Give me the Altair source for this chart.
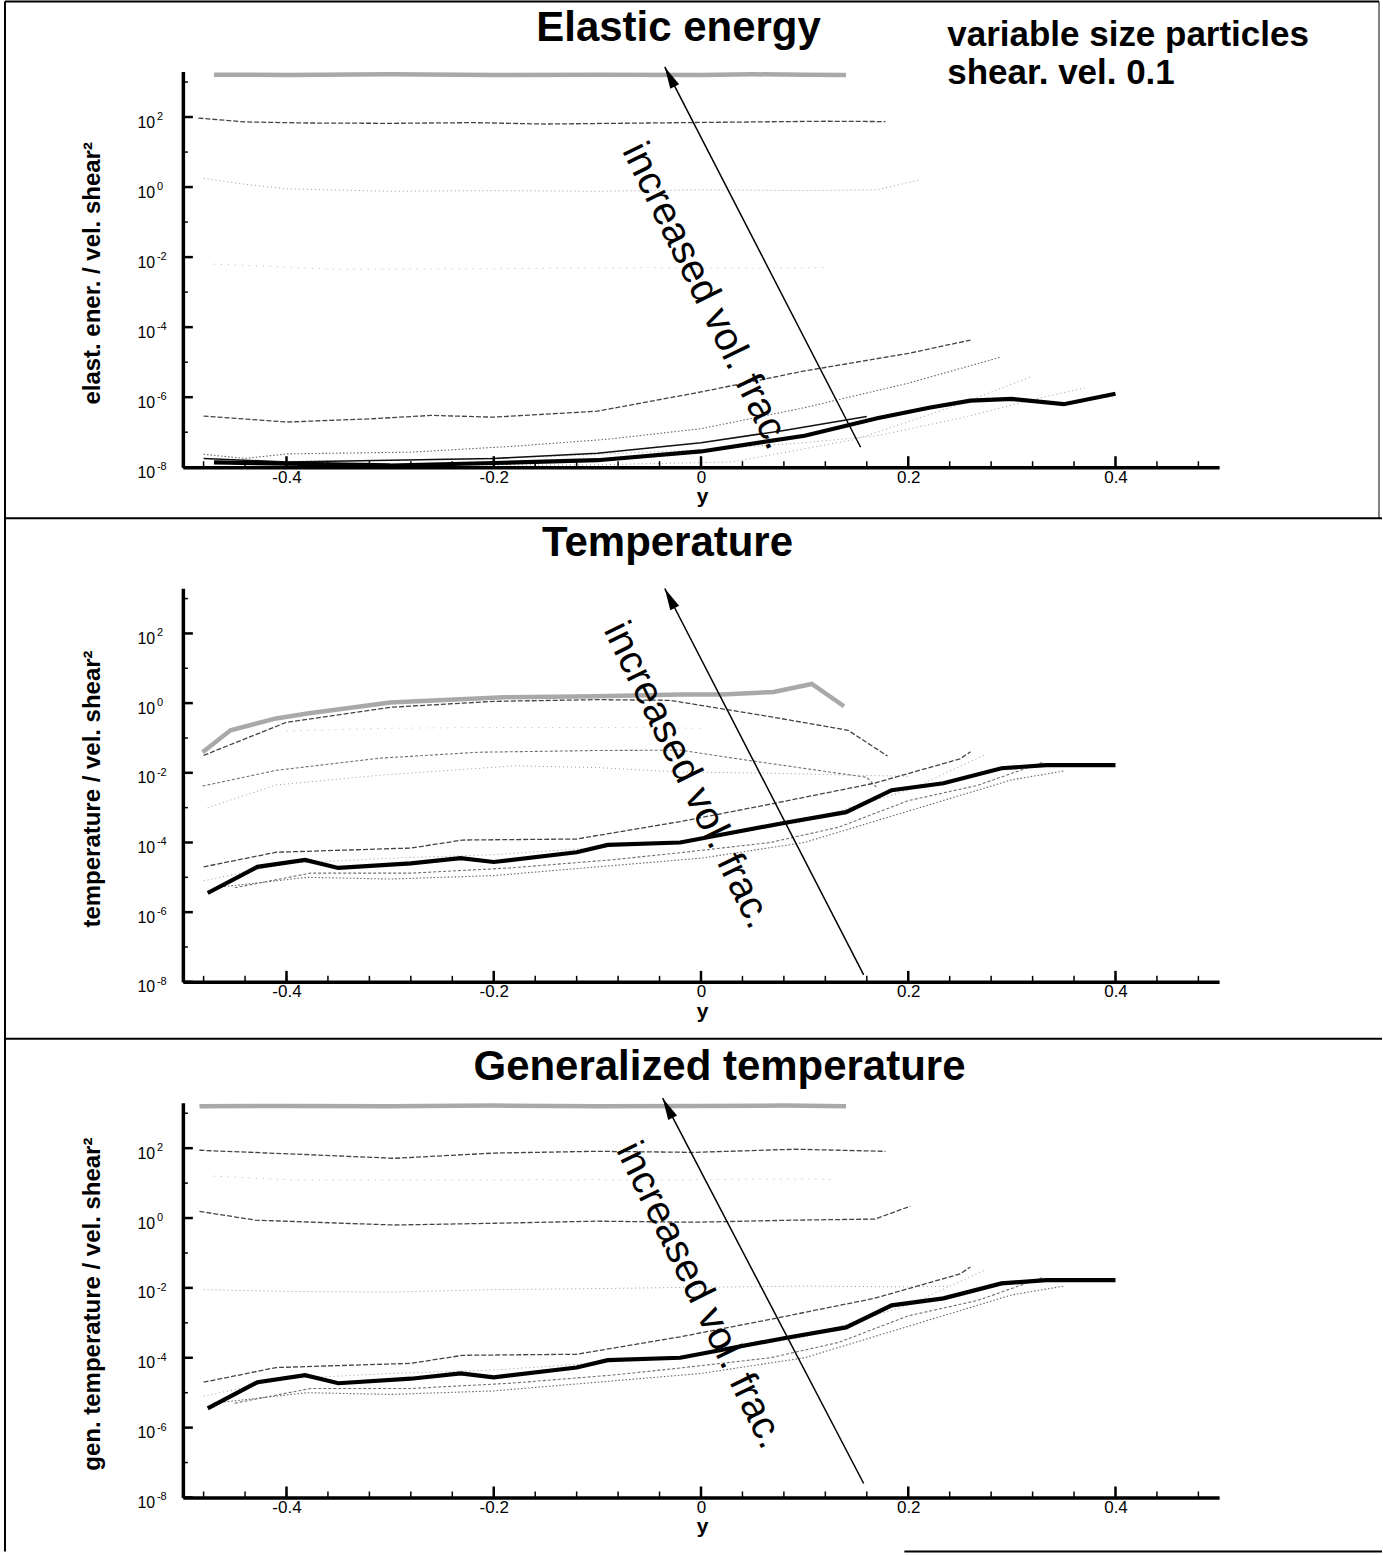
import altair as alt
import pandas as pd

FONT = "Liberation Sans"

# ---------------------------------------------------------------- axes
X_DOMAIN = [-0.5, 0.5]
Y_DOMAIN = [1e-8, 1995.0]          # 1e-8 .. 10^3.3
X_MAJOR = [-0.4, -0.2, 0.0, 0.2, 0.4]
X_MINOR = [-0.48, -0.44, -0.40, -0.36, -0.32, -0.28, -0.24, -0.20, -0.16, -0.12,
           -0.08, -0.04, 0.0, 0.04, 0.08, 0.12, 0.16, 0.20, 0.24, 0.28, 0.32,
           0.36, 0.40, 0.44, 0.48]
Y_MAJOR_EXP = [-8, -6, -4, -2, 0, 2]
Y_MINOR_EXP = [-7, -5, -3, -1, 1, 3]

# ---------------------------------------------------------------- data (log10 of value)
# Elastic energy
el_top_x = [-0.47, -0.4, -0.3, -0.2, -0.1, 0.0, 0.05, 0.1, 0.14]
el_top = [3.21, 3.2, 3.22, 3.2, 3.21, 3.2, 3.22, 3.21, 3.2]
el_hi_x = [-0.485, -0.44, -0.38, -0.3, -0.22, -0.15, -0.05, 0.05, 0.12, 0.178]
el_hi = [1.97, 1.86, 1.83, 1.82, 1.84, 1.8, 1.83, 1.86, 1.88, 1.87]
el_one_x = [-0.48, -0.44, -0.4, -0.3, -0.2, -0.1, 0.0, 0.1, 0.17, 0.21]
el_one = [0.25, 0.08, -0.05, -0.12, -0.1, -0.12, -0.08, -0.1, -0.08, 0.2]
el_cent_x = [-0.47, -0.35, -0.2, -0.05, 0.05, 0.12]
el_cent = [-2.2, -2.35, -2.33, -2.3, -2.32, -2.3]
el_a_x = [-0.48, -0.4, -0.32, -0.26, -0.2, -0.1, 0.0, 0.1, 0.2, 0.26]
el_a = [-6.54, -6.71, -6.62, -6.52, -6.57, -6.4, -5.85, -5.25, -4.75, -4.37]
el_b_x = [-0.48, -0.44, -0.4, -0.28, -0.18, -0.09, 0.0, 0.1, 0.2, 0.29]
el_b = [-7.63, -7.75, -7.62, -7.57, -7.4, -7.2, -6.9, -6.3, -5.6, -4.85]
el_c_x = [-0.45, -0.3, -0.15, 0.0, 0.1, 0.17, 0.25, 0.33, 0.37]
el_c = [-7.85, -7.8, -7.7, -7.5, -7.3, -7.1, -6.6, -6.0, -5.74]
el_d_x = [-0.3, -0.1, 0.03, 0.15, 0.25, 0.32]
el_d = [-7.95, -7.93, -7.85, -7.2, -6.2, -5.4]
el_thin_x = [-0.48, -0.4, -0.3, -0.2, -0.1, 0.0, 0.08, 0.16]
el_thin = [-7.75, -7.85, -7.8, -7.75, -7.6, -7.3, -6.95, -6.55]
el_bold_x = [-0.47, -0.4, -0.3, -0.2, -0.1, 0.0, 0.1, 0.17, 0.22, 0.26, 0.3, 0.35, 0.4]
el_bold = [-7.86, -7.9, -7.95, -7.88, -7.8, -7.55, -7.1, -6.6, -6.3, -6.1, -6.05, -6.2, -5.9]

# Temperature
tp_screen_x = [-0.481, -0.454, -0.41, -0.38, -0.3, -0.19, -0.1, -0.02, 0.02, 0.07, 0.107, 0.138]
tp_screen = [-1.41, -0.78, -0.44, -0.3, 0.02, 0.17, 0.2, 0.25, 0.25, 0.32, 0.55, -0.09]
tp_c_x = [-0.48, -0.4, -0.3, -0.2, -0.1, -0.03, 0.065, 0.142, 0.18]
tp_c = [-1.5, -0.55, -0.12, 0.05, 0.1, 0.08, -0.38, -0.78, -1.52]
tp_b_x = [-0.481, -0.41, -0.31, -0.215, -0.1, -0.02, 0.045, 0.16, 0.17]
tp_b = [-2.38, -1.93, -1.58, -1.41, -1.36, -1.35, -1.64, -2.13, -2.44]
tp_d_x = [-0.476, -0.41, -0.31, -0.18, -0.1, -0.02, 0.05, 0.15, 0.2]
tp_d = [-3.0, -2.35, -2.07, -1.8, -1.85, -1.98, -2.0, -2.07, -2.1]
tp_e_x = [-0.4, -0.3, -0.2, -0.1, 0.0]
tp_e = [-0.8, -0.72, -0.7, -0.7, -0.72]

# low-volume-fraction bundle (temperature and generalized temperature)
low_bold_x = [-0.476, -0.428, -0.382, -0.35, -0.28, -0.232, -0.2, -0.12, -0.09, -0.02,
              0.08, 0.14, 0.184, 0.234, 0.29, 0.333, 0.4]
low_bold = [-5.45, -4.7, -4.5, -4.73, -4.6, -4.45, -4.56, -4.28, -4.07, -4.0,
            -3.44, -3.13, -2.5, -2.3, -1.87, -1.78, -1.78]
low_a_x = [-0.48, -0.41, -0.28, -0.23, -0.12, -0.02, 0.067, 0.167, 0.25, 0.26]
low_a = [-4.7, -4.28, -4.16, -3.93, -3.9, -3.4, -2.9, -2.3, -1.6, -1.4]
low_b_x = [-0.45, -0.377, -0.28, -0.184, -0.087, -0.022, 0.067, 0.133, 0.2, 0.267, 0.33]
low_b = [-5.3, -4.88, -4.88, -4.73, -4.5, -4.3, -4.0, -3.56, -2.8, -2.36, -1.7]
low_c_x = [-0.48, -0.4, -0.3, -0.2, -0.1, 0.0, 0.1, 0.2, 0.273]
low_c = [-5.1, -4.6, -4.45, -4.35, -4.15, -3.9, -3.4, -2.5, -1.5]
low_d_x = [-0.47, -0.38, -0.3, -0.2, -0.1, 0.0, 0.1, 0.2, 0.3, 0.35]
low_d = [-5.3, -5.0, -5.05, -4.95, -4.7, -4.45, -4.0, -3.1, -2.2, -1.95]

# Generalized temperature (upper curves)
gt_top_x = [-0.484, -0.4, -0.3, -0.2, -0.1, 0.0, 0.08, 0.14]
gt_top = [3.2, 3.21, 3.2, 3.22, 3.2, 3.21, 3.22, 3.2]
gt_hi_x = [-0.484, -0.392, -0.296, -0.199, -0.102, -0.006, 0.091, 0.178]
gt_hi = [1.94, 1.83, 1.71, 1.86, 1.91, 1.88, 1.97, 1.91]
gt_mid_x = [-0.47, -0.4, -0.3, -0.15, 0.0, 0.1, 0.13]
gt_mid = [1.2, 1.1, 1.08, 1.1, 1.1, 1.12, 1.1]
gt_one_x = [-0.484, -0.43, -0.296, -0.199, -0.102, -0.006, 0.091, 0.168, 0.202]
gt_one = [0.19, -0.06, -0.2, -0.15, -0.09, -0.12, -0.06, -0.03, 0.34]
gt_cent_x = [-0.48, -0.4, -0.3, -0.2, -0.1, 0.0, 0.1, 0.2, 0.24]
gt_cent = [-2.05, -2.1, -2.12, -2.05, -2.02, -1.98, -1.95, -1.97, -1.95]

# "increased vol. frac." arrows: (y start, log start, y tip, log tip)
arrow_el = [0.154, -7.43, -0.035, 3.43]
arrow_tp = [0.157, -7.8, -0.035, 3.29]
arrow_gt = [0.157, -7.6, -0.037, 3.43]
# arrow label centres: (y, log)
label_el = [0.005, -3.11]
label_tp = [-0.013, -2.07]
label_gt = [-0.001, -2.21]

NOTE_LINES = ["variable size particles", "shear. vel. 0.1"]

# ---------------------------------------------------------------- line styles
STYLES = {
    "screen": dict(color="#a9a9a9", strokeWidth=4.5),
    "dash_dark": dict(color="#444444", strokeWidth=1.3, strokeDash=[5, 2]),
    "dash_mid": dict(color="#707070", strokeWidth=1.1, strokeDash=[3, 2]),
    "dot_mid": dict(color="#666666", strokeWidth=1.1, strokeDash=[1.5, 2]),
    "dot_light": dict(color="#9a9a9a", strokeWidth=1.0, strokeDash=[1, 3]),
    "dot_faint": dict(color="#b8b8b8", strokeWidth=1.0, strokeDash=[1, 6]),
    "thin": dict(color="#111111", strokeWidth=1.6),
    "bold": dict(color="#000000", strokeWidth=4.2),
}

PANEL_W = 1037


def x_enc():
    return alt.X(
        "pos:Q",
        scale=alt.Scale(domain=X_DOMAIN, nice=False, zero=False),
        axis=alt.Axis(
            values=X_MAJOR,
            labelExpr="datum.value == 0 ? '0' : (datum.value < 0 ? '-' + format(-datum.value, '.1f') : format(datum.value, '.1f'))",
            ticks=False, grid=False, domainWidth=3.5, domainColor="black",
            labelFont=FONT, labelFontSize=17, labelColor="black", labelPadding=2,
            labelFlush=False, labelOverlap=False, title=None,
        ),
    )


def y_enc():
    return alt.Y(
        "v:Q",
        scale=alt.Scale(type="log", domain=Y_DOMAIN, nice=False),
        axis=alt.Axis(
            values=[10.0 ** e for e in Y_MAJOR_EXP],
            labelExpr="'10'",
            ticks=False, grid=False, domainWidth=3.5, domainColor="black",
            labelFont=FONT, labelFontSize=16, labelColor="black",
            labelAlign="left", labelBaseline="middle", labelPadding=46, labelOffset=5,
            labelFlush=False, labelOverlap=False, title=None,
        ),
    )


def curve(xs, logs, style):
    df = pd.DataFrame({"pos": xs, "v": [10.0 ** l for l in logs]})
    return alt.Chart(df).mark_line(clip=False, strokeCap="butt", **STYLES[style]).encode(
        x=x_enc(), y=y_enc()
    )


def frame_layers(height):
    major_y = pd.DataFrame({"v": [10.0 ** e for e in Y_MAJOR_EXP],
                            "exp": [str(e) for e in Y_MAJOR_EXP]})
    minor_y = pd.DataFrame({"v": [10.0 ** e for e in Y_MINOR_EXP]})
    major_x = pd.DataFrame({"pos": X_MAJOR})
    minor_x = pd.DataFrame({"pos": X_MINOR})
    return [
        alt.Chart(major_y).mark_rule(color="black", strokeWidth=2.5).encode(
            y=y_enc(), x=alt.value(0), x2=alt.value(10)),
        alt.Chart(minor_y).mark_rule(color="black", strokeWidth=1.5).encode(
            y=y_enc(), x=alt.value(0), x2=alt.value(5)),
        alt.Chart(major_x).mark_rule(color="black", strokeWidth=2.5).encode(
            x=x_enc(), y=alt.value(height), y2=alt.value(height - 11)),
        alt.Chart(minor_x).mark_rule(color="black", strokeWidth=1.5).encode(
            x=x_enc(), y=alt.value(height), y2=alt.value(height - 6)),
        alt.Chart(major_y).mark_text(font=FONT, fontSize=11, align="left",
                                     baseline="middle", color="black").encode(
            y=y_enc(), x=alt.value(-26), text="exp:N"),
    ]


def arrow_layers(arrow, label):
    seg = pd.DataFrame({"pos": [arrow[0]], "v": [10.0 ** arrow[1]],
                        "pos2": [arrow[2]], "v2": [10.0 ** arrow[3]]})
    tip = pd.DataFrame({"pos": [arrow[2]], "v": [10.0 ** arrow[3]]})
    lab = pd.DataFrame({"pos": [label[0]], "v": [10.0 ** label[1]],
                        "txt": ["increased vol. frac."]})
    return [
        alt.Chart(seg).mark_rule(color="black", strokeWidth=1.5, clip=False).encode(
            x=x_enc(), y=y_enc(), x2="pos2:Q", y2="v2:Q"),
        alt.Chart(tip).mark_point(shape="M0,0L0.45,2L-0.45,2Z", size=484, angle=333,
                                  filled=True, color="black", opacity=1,
                                  strokeWidth=0, clip=False).encode(
            x=x_enc(), y=y_enc()),
        alt.Chart(lab).mark_text(font=FONT, fontSize=40, angle=64, align="center",
                                 baseline="middle", color="black").encode(
            x=x_enc(), y=y_enc(), text="txt:N"),
    ]


def text_at(txt, x, y, size, weight="bold", align="center", angle=0):
    return alt.Chart(pd.DataFrame({"t": [txt]})).mark_text(
        font=FONT, fontSize=size, fontWeight=weight, align=align,
        baseline="alphabetic", angle=angle, color="black",
    ).encode(text="t:N", x=alt.value(x), y=alt.value(y))


def hline(x1, x2, y, w=2):
    return alt.Chart(pd.DataFrame({"k": [0]})).mark_rule(color="black", strokeWidth=w).encode(
        x=alt.value(x1), x2=alt.value(x2), y=alt.value(y))


def vline(x, y1, y2, w=2):
    return alt.Chart(pd.DataFrame({"k": [0]})).mark_rule(color="black", strokeWidth=w).encode(
        x=alt.value(x), y=alt.value(y1), y2=alt.value(y2))


def panel(height, curves, arrow, label, title, title_x, title_y, ytitle, extras):
    layers = [curve(*c) for c in curves]
    layers += frame_layers(height)
    layers += arrow_layers(arrow, label)
    layers.append(text_at(title, title_x, title_y, 42))
    layers.append(text_at("y", 520, height + 36, 21))
    layers.append(
        alt.Chart(pd.DataFrame({"t": [ytitle]})).mark_text(
            font=FONT, fontSize=24, fontWeight="bold", angle=270, align="center",
            baseline="middle", color="black",
        ).encode(text="t:N", x=alt.value(-90), y=alt.value(height / 2 + 4))
    )
    layers += extras
    return alt.layer(*layers).properties(width=PANEL_W, height=height)


H1, H2, H3 = 396, 394, 395

p1 = panel(
    H1,
    [
        (el_cent_x, el_cent, "dot_faint"),
        (el_one_x, el_one, "dot_light"),
        (el_c_x, el_c, "dot_light"),
        (el_d_x, el_d, "dot_light"),
        (el_b_x, el_b, "dot_mid"),
        (el_top_x, el_top, "screen"),
        (el_hi_x, el_hi, "dash_dark"),
        (el_a_x, el_a, "dash_dark"),
        (el_thin_x, el_thin, "thin"),
        (el_bold_x, el_bold, "bold"),
    ],
    arrow_el, label_el, "Elastic energy", 496, -31,
    "elast. ener. / vel. shear\u00b2",
    [
        text_at(NOTE_LINES[0], 765, -26, 35, align="left"),
        text_at(NOTE_LINES[1], 765, 12, 35, align="left"),
        hline(-178, 1197, -70),
        vline(-178, -70, 447),
        vline(1197, -70, 447, 1),
        hline(-178, 1200, 447),
    ],
)

p2 = panel(
    H2,
    [
        (tp_e_x, tp_e, "dot_faint"),
        (tp_d_x, tp_d, "dot_light"),
        (low_c_x, low_c, "dot_light"),
        (low_d_x, low_d, "dot_mid"),
        (tp_screen_x, tp_screen, "screen"),
        (tp_c_x, tp_c, "dash_dark"),
        (tp_b_x, tp_b, "dash_mid"),
        (low_b_x, low_b, "dash_mid"),
        (low_a_x, low_a, "dash_dark"),
        (low_bold_x, low_bold, "bold"),
    ],
    arrow_tp, label_tp, "Temperature", 485, -32,
    "temperature / vel. shear\u00b2",
    [
        vline(-178, -72, 451),
        hline(-178, 1200, 451),
    ],
)

p3 = panel(
    H3,
    [
        (gt_mid_x, gt_mid, "dot_faint"),
        (gt_cent_x, gt_cent, "dot_light"),
        (low_c_x, low_c, "dot_light"),
        (low_d_x, low_d, "dot_mid"),
        (gt_top_x, gt_top, "screen"),
        (gt_hi_x, gt_hi, "dash_dark"),
        (gt_one_x, gt_one, "dash_dark"),
        (low_b_x, low_b, "dash_mid"),
        (low_a_x, low_a, "dash_dark"),
        (low_bold_x, low_bold, "bold"),
    ],
    arrow_gt, label_gt, "Generalized temperature", 537, -23,
    "gen. temperature / vel. shear\u00b2",
    [
        vline(-178, -65, 449),
        hline(722, 1200, 449),
    ],
)

chart = (
    alt.vconcat(p1, p2, p3, spacing=121, bounds="flush")
    .properties(padding={"left": 4, "top": 0, "right": 0, "bottom": 0})
    .configure(background="white", view=alt.ViewConfig(stroke=None))
)

chart.save("out.html", embed_options={"renderer": "svg", "actions": False})
